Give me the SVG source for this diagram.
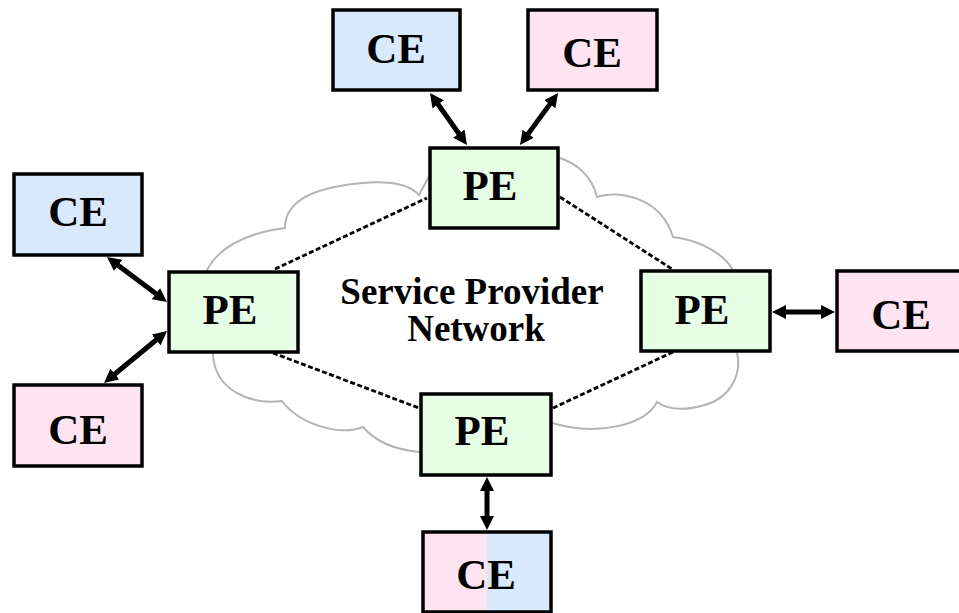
<svg xmlns="http://www.w3.org/2000/svg" width="959" height="613" viewBox="0 0 959 613">
  <style>
    .box { stroke: #000; stroke-width: 3.5; }
    .ce-blue { fill: #D9E9FC; }
    .ce-pink { fill: #FDE4F0; }
    .pe { fill: #E6FDE6; }
    .lbl { font-family: "Liberation Serif", "Times New Roman", serif; font-weight: bold; font-size: 43px; text-anchor: middle; fill: #000; }
    .cloud-lbl { font-family: "Liberation Serif", "Times New Roman", serif; font-weight: bold; font-size: 37px; text-anchor: middle; fill: #000; }
    .cloud { fill: none; stroke: #B4B4B4; stroke-width: 2; }
    .link { stroke: #000; stroke-width: 5; fill: none; marker-start: url(#head); marker-end: url(#head); }
    .mesh { stroke: #000; stroke-width: 2.8; stroke-dasharray: 5 2.5; fill: none; }
  </style>
  <defs>
    <marker id="head" viewBox="0 0 14 14" refX="7" refY="7" markerWidth="14" markerHeight="14" markerUnits="userSpaceOnUse" orient="auto-start-reverse">
      <path d="M0,0 L14,7 L0,14 Z" fill="#000"/>
    </marker>
  </defs>

  <rect width="959" height="613" fill="#fff"/>

  <!-- provider cloud -->
  <path class="cloud" d="M207,270 Q225,236 285,228 C285,205 305,192 340,186 S405,180 419,195 L427,180 C440,150 540,140 560,158 C575,163 592,175 597,197 C615,190 660,195 673,237 C700,240 728,255 735,275 L737,353 C742,375 730,398 705,405 S665,408 657,402 C645,425 600,435 560,425 L540,420 L430,452 L419,452 C400,450 378,445 363,427 C340,436 300,425 282,401 C250,405 215,390 213,355 Z"/>
  <text class="cloud-lbl" x="472" y="304">Service Provider</text>
  <text class="cloud-lbl" x="476" y="341">Network</text>

  <g id="ce-top-left">
    <rect class="box ce-blue" x="333" y="10" width="127" height="80"/>
    <text class="lbl" x="396" y="63">CE</text>
  </g>
  <g id="ce-top-right">
    <rect class="box ce-pink" x="528" y="10" width="129" height="80"/>
    <text class="lbl" x="592" y="67">CE</text>
  </g>
  <g id="pe-top">
    <rect class="box pe" x="430" y="148" width="128" height="80"/>
    <text class="lbl" x="490" y="200">PE</text>
  </g>
  <g id="ce-left-top">
    <rect class="box ce-blue" x="14" y="174" width="128" height="81"/>
    <text class="lbl" x="78" y="226">CE</text>
  </g>
  <g id="pe-left">
    <rect class="box pe" x="169" y="272" width="129" height="80"/>
    <text class="lbl" x="230" y="324">PE</text>
  </g>
  <g id="ce-left-bottom">
    <rect class="box ce-pink" x="14" y="385" width="128" height="81"/>
    <text class="lbl" x="78" y="444">CE</text>
  </g>
  <g id="pe-right">
    <rect class="box pe" x="641" y="271" width="129" height="80"/>
    <text class="lbl" x="702" y="324">PE</text>
  </g>
  <g id="ce-right">
    <rect class="box ce-pink" x="837" y="271" width="129" height="80"/>
    <text class="lbl" x="901" y="329">CE</text>
  </g>
  <g id="pe-bottom">
    <rect class="box pe" x="421" y="394" width="130" height="81"/>
    <text class="lbl" x="482" y="445">PE</text>
  </g>
  <g id="ce-bottom">
    <rect x="423" y="532" width="64" height="80" fill="#FDE4F0"/>
    <rect x="487" y="532" width="64" height="80" fill="#D9E9FC"/>
    <rect class="box" x="423" y="532" width="128" height="80" fill="none"/>
    <text class="lbl" x="486" y="589">CE</text>
  </g>

  <g id="connectors">
    <line class="mesh" x1="275" y1="269" x2="427" y2="198"/>
    <line class="mesh" x1="560" y1="197" x2="672" y2="269"/>
    <line class="mesh" x1="273" y1="353" x2="419" y2="408"/>
    <line class="mesh" x1="673" y1="352" x2="553" y2="408"/>
    <line class="link" x1="434.1" y1="98.7" x2="462.9" y2="139.3"/>
    <line class="link" x1="553.9" y1="98.6" x2="524.1" y2="139.4"/>
    <line class="link" x1="112.6" y1="261.2" x2="161.4" y2="297.8"/>
    <line class="link" x1="109.4" y1="378.5" x2="161.6" y2="335.5"/>
    <line class="link" x1="779" y1="312" x2="828" y2="312"/>
    <line class="link" x1="487" y1="484" x2="487" y2="523"/>
  </g>
</svg>
